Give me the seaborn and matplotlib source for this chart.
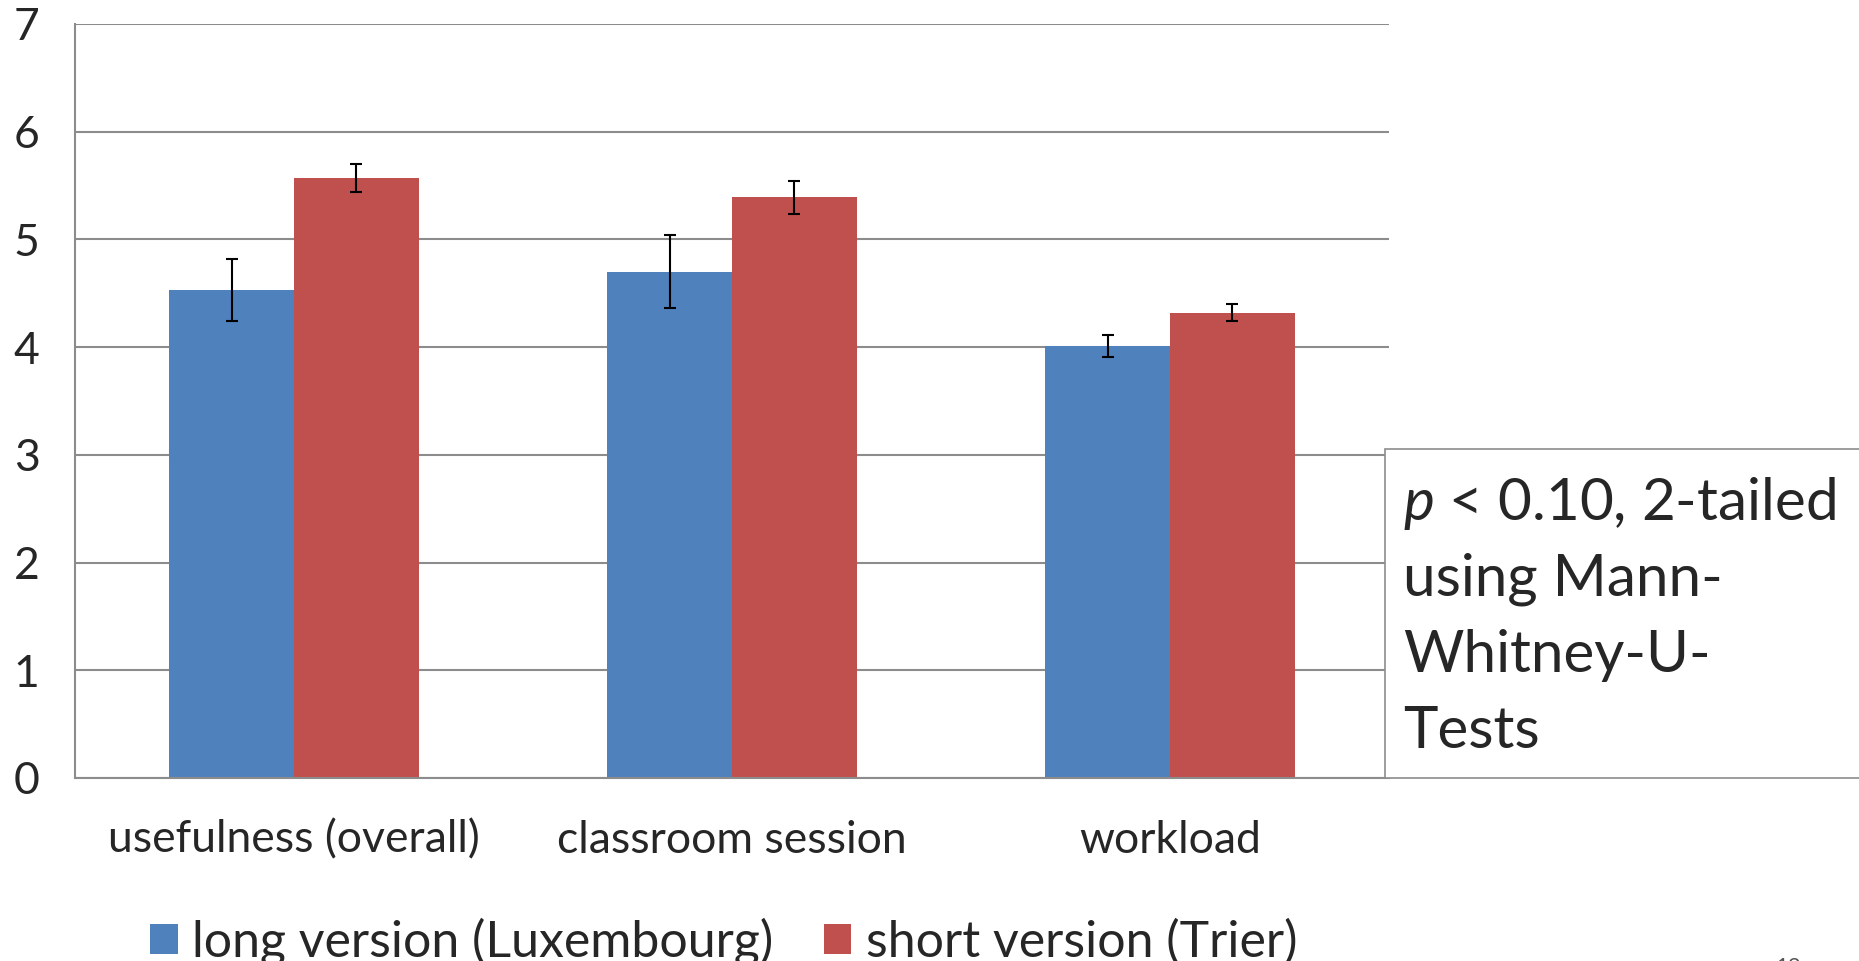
import matplotlib
matplotlib.use("Agg")
import matplotlib.pyplot as plt
from matplotlib.patches import Rectangle
import seaborn as sns
import pandas as pd

# values
categories = ["usefulness (overall)", "classroom session", "workload"]
groups = ["long version (Luxembourg)", "short version (Trier)"]
long_means = [4.53, 4.70, 4.01]
long_errs = [0.29, 0.34, 0.105]
short_means = [5.57, 5.39, 4.32]
short_errs = [0.13, 0.15, 0.08]
y_ticks = [0, 1, 2, 3, 4, 5, 6, 7]
note_lines = [r"$\mathit{p}$ < 0.10, 2-tailed", "using Mann-", "Whitney-U-", "Tests"]

BLUE = "#4F81BD"
RED = "#C0504D"
GRAY = "#8c8c8c"
W, H = 1859, 961

sns.set_theme(style="white")
plt.rcParams["font.family"] = ["Lato", "DejaVu Sans"]
plt.rcParams["mathtext.fontset"] = "custom"
plt.rcParams["mathtext.it"] = "Lato:italic"
plt.rcParams["mathtext.rm"] = "Lato"

df = pd.DataFrame({
    "category": categories * 2,
    "group": [groups[0]] * 3 + [groups[1]] * 3,
    "mean": long_means + short_means,
})

fig = plt.figure(figsize=(W / 100, H / 100), dpi=100)
ax = fig.add_axes([75 / W, 1 - 778 / H, (1389 - 75) / W, (778 - 24) / H])

sns.barplot(data=df, x="category", y="mean", hue="group", palette=[BLUE, RED],
            width=0.57, gap=0, errorbar=None, saturation=1, linewidth=0, ax=ax)

handles, labels = ax.get_legend_handles_labels()
ax.legend_.remove()

# error bars on top of seaborn's bars
for container, errs in zip(list(ax.containers), [long_errs, short_errs]):
    xs = [b.get_x() + b.get_width() / 2 for b in container]
    ys = [b.get_height() for b in container]
    ax.errorbar(xs, ys, yerr=errs, fmt="none", ecolor="black",
                elinewidth=1.5, capsize=4, capthick=1.5, zorder=5)

ax.set_ylim(0, 7)
ax.set_xlim(-0.5, 2.5)
ax.set_yticks(y_ticks)
ax.set_xlabel("")
ax.set_ylabel("")
ax.yaxis.grid(True, color=GRAY, linewidth=1.5)
ax.set_axisbelow(True)

ax.set_xticks([-0.5, 0.5, 1.5, 2.5], minor=True)
ax.tick_params(axis="x", which="major", length=0, labelsize=32, pad=30)
ax.tick_params(axis="x", which="minor", length=12, width=1.5, color=GRAY, direction="out")
ax.tick_params(axis="y", length=9.5, width=1.5, color=GRAY, labelsize=32, pad=16)

sns.despine(ax=ax, top=True, right=True)
for side in ["left", "bottom"]:
    ax.spines[side].set_color(GRAY)
    ax.spines[side].set_linewidth(1.5)

# note box on the right
fig.add_artist(Rectangle((1385 / W, 1 - 778 / H), 0.3, (778 - 449) / H,
                         transform=fig.transFigure, facecolor="white",
                         edgecolor=GRAY, linewidth=1.2, zorder=3))
for i, line in enumerate(note_lines):
    fig.text(1403 / W, 1 - (520 + 76 * i) / H, line, fontsize=42,
             va="baseline", ha="left", zorder=4)

fig.legend(handles, labels, loc="center left", bbox_to_anchor=(150 / W, 1 - 942 / H),
           ncol=2, frameon=False, fontsize=36, handlelength=0.55, handleheight=0.55,
           handletextpad=0.3, columnspacing=1.0, borderpad=0, borderaxespad=0)

fig.text(1775 / W, 1 - 957 / H, "12", va="top", fontsize=16, color="#555555")

fig.savefig("out.png", dpi=100)
